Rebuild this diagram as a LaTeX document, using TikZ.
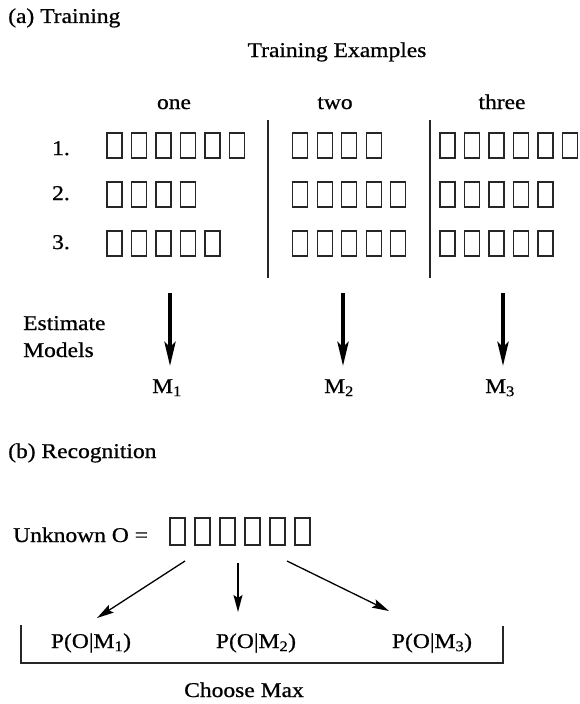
\documentclass[tikz,border=0pt]{standalone}
\usepackage{fontspec}
\setmainfont[FakeStretch=1.12,FakeBold=0.8]{Liberation Serif}
\usetikzlibrary{arrows.meta}
\begin{document}
\begin{tikzpicture}[x=1pt,y=-1pt,
  txt/.style={inner sep=0pt, font=\fontsize{21}{25}\selectfont},
  sq/.style={draw=black!85, line width=1.3pt, minimum width=15pt, minimum height=25pt, inner sep=0pt},
  sqb/.style={sq, minimum height=27pt},
  sepline/.style={draw=black!85, line width=1.5pt},
  bigarrow/.style={line width=3.8pt, -{Stealth[length=24pt,width=11pt,inset=5pt]}},
  thinarrow/.style={line width=1.3pt, -{Stealth[length=17pt,width=9pt,inset=3pt]}}
]
\useasboundingbox (0,0) rectangle (579,704);

% ---------- (a) Training ----------
\node[txt, anchor=base west] (ta) at (8,23) {(a) Training};
\node[txt, anchor=base] (te) at (337,57) {Training Examples};
\node[txt, anchor=base] (cone) at (174,109) {one};
\node[txt, anchor=base] (ctwo) at (335,109) {two};
\node[txt, anchor=base] (cthree) at (502,109) {three};

\node[txt, anchor=base] (r1) at (61,155) {1.};
\node[txt, anchor=base] (r2) at (61,200) {2.};
\node[txt, anchor=base] (r3) at (61,249) {3.};

\foreach \r/\y/\na/\nb/\nc in {1/145.5/6/4/6, 2/194.5/4/5/5, 3/243.5/5/5/5} {
  \foreach \k in {1,...,\na}
    \node[sq] (one-\r-\k) at ({114.5+(\k-1)*24.5}, \y) {};
  \foreach \k in {1,...,\nb}
    \node[sq] (two-\r-\k) at ({300.2+(\k-1)*24.5}, \y) {};
  \foreach \k in {1,...,\nc}
    \node[sq] (three-\r-\k) at ({447.5+(\k-1)*24.5}, \y) {};
}

\coordinate (v1t) at (268,120);
\coordinate (v1b) at (268,278);
\coordinate (v2t) at (430,120);
\coordinate (v2b) at (430,278);
\draw[sepline] (v1t) -- (v1b);
\draw[sepline] (v2t) -- (v2b);

\node[txt, anchor=base west] (est) at (23,330) {Estimate};
\node[txt, anchor=base west] (mod) at (23,357) {Models};

\node[txt, anchor=base] (M1) at (167,393) {M\textsubscript{1}};
\node[txt, anchor=base] (M2) at (339,393) {M\textsubscript{2}};
\node[txt, anchor=base] (M3) at (500,393) {M\textsubscript{3}};

\coordinate (s1) at (170,293);
\coordinate (s2) at (343,293);
\coordinate (s3) at (503,293);
\draw[bigarrow, shorten >=13pt] (s1) -- (M1.north -| s1);
\draw[bigarrow, shorten >=13pt] (s2) -- (M2.north -| s2);
\draw[bigarrow, shorten >=13pt] (s3) -- (M3.north -| s3);

% ---------- (b) Recognition ----------
\node[txt, anchor=base west] (tb) at (8,458) {(b) Recognition};
\node[txt, anchor=base west] (unk) at (13,542) {Unknown O =};
\foreach \k in {1,...,6}
  \node[sqb] (u\k) at ({177.5+(\k-1)*25}, 531.5) {};

\node[txt, anchor=base] (P1) at (91,648) {P(O|M\textsubscript{1})};
\node[txt, anchor=base] (P2) at (256,648) {P(O|M\textsubscript{2})};
\node[txt, anchor=base] (P3) at (432,648) {P(O|M\textsubscript{3})};

\coordinate (c1) at (185,561);
\coordinate (d1) at (97,618);
\coordinate (c2) at (238,563);
\coordinate (d2) at (238,612);
\coordinate (c3) at (287,561);
\coordinate (d3) at (389,611);
\draw[thinarrow] (c1) -- (d1);
\draw[thinarrow] (c2) -- (d2);
\draw[thinarrow] (c3) -- (d3);

\coordinate (bl) at (21,625);
\coordinate (bbl) at (21,663);
\coordinate (bbr) at (503,663);
\coordinate (br) at (503,626);
\draw[sepline] (bl) -- (bbl) -- (bbr) -- (br);

\node[txt, anchor=base] (cm) at (244,697) {Choose Max};
\end{tikzpicture}
\end{document}
